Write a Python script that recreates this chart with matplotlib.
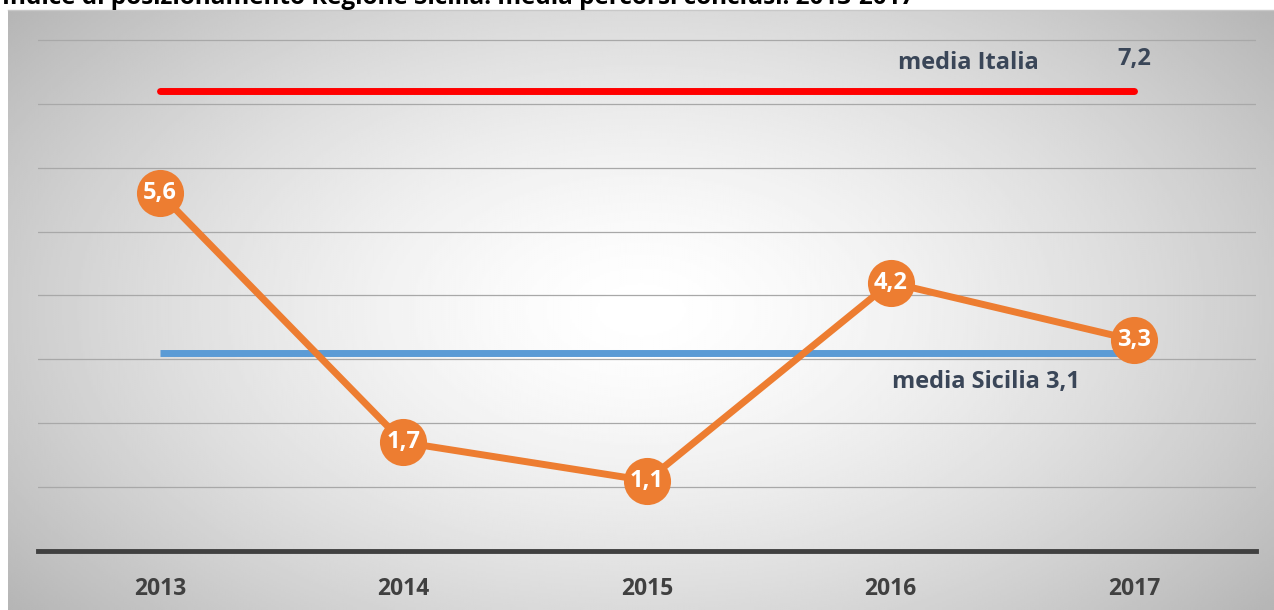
import numpy as np
import matplotlib
matplotlib.use('Agg')
import matplotlib.pyplot as plt

# Indice di posizionamento, Regione Sicilia
years = ['2013', '2014', '2015', '2016', '2017']
sicilia = [5.6, 1.7, 1.1, 4.2, 3.3]
media_italia = 7.2
media_sicilia = 3.1

W, H = 1274, 610
fig = plt.figure(figsize=(W / 100, H / 100), dpi=100)

# radial grey background of the chart panel
bg = fig.add_axes([8 / W, 0, (W - 8) / W, 600 / H])
gx, gy = np.meshgrid(np.linspace(-1, 1, 600), np.linspace(-1, 1, 300))
r = np.sqrt(gx ** 2 + (gy * 0.8) ** 2)
shade = np.clip(1.0 - 0.2 * r ** 1.5, 0, 1)
bg.imshow(shade, cmap='gray', vmin=0, vmax=1, aspect='auto',
          extent=[0, 1, 0, 1], interpolation='bilinear')
bg.set_axis_off()
fig.add_artist(plt.Line2D([8 / W, 1], [600 / H, 600 / H], color='#c8c8c8', lw=1))

unit = 63.9
y0 = 551
ymax = 8.4
ax = fig.add_axes([38 / W, (H - y0) / H, (1256 - 38) / W, ymax * unit / H])
ax.patch.set_alpha(0)
ax.set_xlim(-0.5, 4.5)
ax.set_ylim(0, ymax)
for s in ax.spines.values():
    s.set_visible(False)
ax.set_yticks(range(1, 9))
ax.yaxis.grid(True, color='#a8a8a8', lw=0.9)
ax.tick_params(left=False, labelleft=False, bottom=False)
ax.axhline(0, color='#404040', lw=3.5, clip_on=False)

x = np.arange(len(years))
ax.set_xticks(x)
ax.set_xticklabels(years, fontsize=16.5, fontweight='bold', color='#404040', family='Open Sans')
ax.tick_params(axis='x', pad=15)

# reference averages
ax.plot([x[0], x[-1]], [media_italia] * 2, color='#ff0000', lw=5, solid_capstyle='round', zorder=3)
ax.plot([x[0], x[-1]], [media_sicilia] * 2, color='#5b9bd5', lw=5, solid_capstyle='butt', zorder=3)

# Sicilia series
ax.plot(x, sicilia, color='#ed7d31', lw=5, zorder=4)
ax.scatter(x, sicilia, s=1150, color='#ed7d31', zorder=5, linewidths=0)
for xi, v in zip(x, sicilia):
    ax.text(xi, v, f'{v:.1f}'.replace('.', ','), ha='center', va='center',
            color='white', fontsize=17, fontweight='bold', family='Open Sans', zorder=6)

lab = '#3a4658'
ax.text(3.32, media_italia + 0.43, 'media Italia', ha='center', va='center',
        fontsize=17, fontweight='bold', color=lab, family='Open Sans')
ax.text(x[-1], media_italia + 0.5, f'{media_italia:.1f}'.replace('.', ','), ha='center',
        va='center', fontsize=17, fontweight='bold', color=lab, family='Open Sans')
ax.text(3.005, media_sicilia - 0.45, 'media Sicilia ' + f'{media_sicilia:.1f}'.replace('.', ','),
        ha='left', va='center', fontsize=17, fontweight='bold', color=lab, family='Open Sans')

fig.text(2 / W, 1 - 4 / H, 'Indice di posizionamento Regione Sicilia: media percorsi conclusi. 2013-2017',
         ha='left', va='baseline', fontsize=17.5, fontweight='bold', color='black', family='Open Sans')

fig.savefig('out.png', dpi=100)
